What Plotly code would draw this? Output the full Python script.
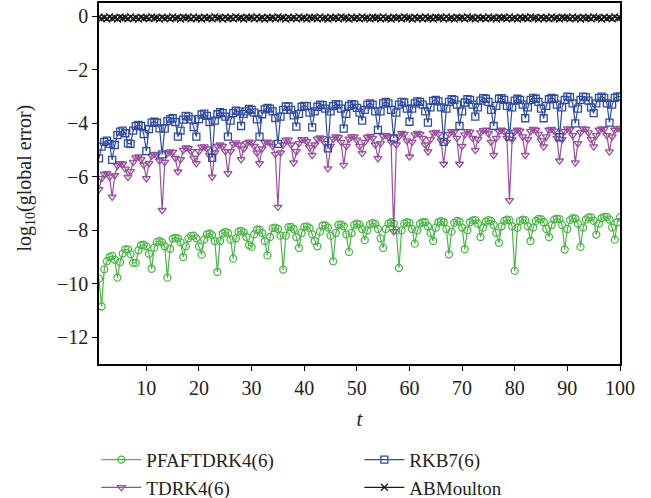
import numpy as np
import plotly.graph_objects as go

# time grid: t = 1.0, 1.5, ..., 100.0
t = np.linspace(1.0, 100.0, 199)

# log10 of global error for each integrator
pfaftdrk = [
    -9.81, -10.85, -9.46, -9.16, -9.00, -8.96, -9.10, -9.77, -9.19, -8.87,
    -8.71, -8.71, -8.90, -9.22, -9.22, -8.75, -8.56, -8.54, -8.60, -8.88,
    -9.44, -8.65, -8.44, -8.40, -8.45, -8.60, -9.77, -8.69, -8.31, -8.28,
    -8.30, -8.45, -9.00, -8.60, -8.30, -8.21, -8.20, -8.30, -8.60, -8.91,
    -8.35, -8.15, -8.12, -8.18, -8.40, -9.56, -8.40, -8.12, -8.06, -8.10,
    -8.35, -9.06, -8.30, -8.05, -8.02, -8.08, -8.25, -8.55, -8.62, -8.15,
    -7.98, -7.98, -8.10, -8.40, -8.94, -8.25, -7.92, -7.90, -7.95, -8.20,
    -9.47, -8.20, -7.88, -7.87, -7.95, -8.25, -8.66, -8.10, -7.87, -7.85,
    -7.92, -8.15, -8.40, -8.60, -8.05, -7.82, -7.82, -7.90, -8.20, -9.16,
    -8.10, -7.80, -7.78, -7.85, -8.15, -8.81, -8.10, -7.80, -7.75, -7.78,
    -7.95, -8.37, -8.00, -7.78, -7.73, -7.76, -7.95, -8.30, -8.66, -7.95,
    -7.75, -7.70, -7.75, -8.00, -9.41, -8.00, -7.75, -7.70, -7.72, -7.95,
    -8.50, -8.00, -7.75, -7.70, -7.70, -7.85, -8.10, -8.40, -7.90, -7.70,
    -7.66, -7.70, -7.95, -8.90, -8.05, -7.72, -7.65, -7.68, -7.90, -8.71,
    -8.00, -7.70, -7.63, -7.62, -7.75, -8.25, -7.90, -7.68, -7.62, -7.65,
    -7.80, -8.10, -8.47, -7.85, -7.65, -7.60, -7.62, -7.85, -9.52, -7.90,
    -7.65, -7.60, -7.62, -7.85, -8.40, -7.90, -7.65, -7.57, -7.58, -7.70,
    -7.95, -8.25, -7.80, -7.60, -7.56, -7.58, -7.80, -8.72, -7.95, -7.62,
    -7.55, -7.56, -7.75, -8.62, -7.90, -7.60, -7.52, -7.52, -7.65, -8.16,
    -7.75, -7.55, -7.50, -7.50, -7.60, -7.90, -8.35, -7.70, -7.52,
]

tdrk = [
    -6.47, -6.06, -5.90, -5.87, -6.00, -6.75, -5.95, -5.58, -5.50, -5.52,
    -5.70, -6.00, -5.80, -5.45, -5.28, -5.25, -5.35, -5.55, -6.06, -5.50,
    -5.22, -5.15, -5.17, -5.40, -7.25, -5.45, -5.12, -5.06, -5.08, -5.30,
    -5.81, -5.35, -5.00, -4.91, -4.93, -5.05, -5.30, -5.50, -5.05, -4.88,
    -4.87, -4.95, -5.20, -6.00, -5.10, -4.85, -4.80, -4.85, -5.05, -5.87,
    -5.05, -4.78, -4.72, -4.80, -5.35, -4.95, -4.75, -4.69, -4.72, -4.85,
    -5.10, -5.50, -4.95, -4.72, -4.69, -4.72, -4.85, -5.15, -7.13, -5.10,
    -4.80, -4.62, -4.62, -4.80, -5.47, -5.05, -4.75, -4.60, -4.60, -4.68,
    -4.90, -5.19, -4.80, -4.58, -4.54, -4.56, -4.75, -5.69, -4.85, -4.58,
    -4.50, -4.52, -4.70, -5.56, -4.85, -4.58, -4.50, -4.50, -4.62, -4.85,
    -5.12, -4.70, -4.52, -4.48, -4.55, -4.80, -5.31, -4.75, -4.48, -4.44,
    -4.50, -4.70, -8.04, -4.80, -4.50, -4.37, -4.40, -4.65, -5.25, -4.70,
    -4.42, -4.37, -4.40, -4.55, -4.80, -5.06, -4.60, -4.36, -4.33, -4.40,
    -4.65, -5.52, -4.70, -4.40, -4.30, -4.32, -4.55, -5.52, -4.85, -4.42,
    -4.30, -4.32, -4.55, -5.00, -4.60, -4.35, -4.26, -4.25, -4.38, -4.70,
    -5.19, -4.55, -4.30, -4.25, -4.30, -4.55, -6.88, -4.60, -4.32, -4.25,
    -4.28, -4.50, -5.19, -4.60, -4.30, -4.22, -4.25, -4.40, -4.65, -4.87,
    -4.50, -4.25, -4.22, -4.28, -4.55, -5.40, -4.60, -4.30, -4.20, -4.23,
    -4.45, -5.47, -4.75, -4.35, -4.20, -4.22, -4.35, -4.60, -4.87, -4.45,
    -4.25, -4.20, -4.22, -4.45, -5.06, -4.50, -4.25, -4.19, -4.18,
]

rkb7 = [
    -5.31, -4.87, -4.69, -4.65, -4.77, -5.37, -4.81, -4.44, -4.31, -4.27,
    -4.37, -4.75, -4.77, -4.27, -4.10, -4.06, -4.10, -4.40, -5.04, -4.22,
    -3.97, -3.94, -3.97, -4.19, -5.16, -4.20, -3.92, -3.84, -3.81, -3.95,
    -4.50, -4.27, -3.86, -3.72, -3.75, -3.85, -4.14, -4.50, -3.84, -3.67,
    -3.64, -3.72, -3.95, -5.29, -3.90, -3.66, -3.58, -3.62, -3.75, -4.50,
    -3.90, -3.62, -3.53, -3.55, -4.10, -3.65, -3.55, -3.46, -3.50, -3.60,
    -3.85, -4.50, -3.66, -3.48, -3.42, -3.45, -3.55, -3.80, -4.77, -3.75,
    -3.50, -3.37, -3.37, -3.50, -3.70, -4.12, -3.65, -3.38, -3.35, -3.36,
    -3.60, -4.15, -3.55, -3.38, -3.30, -3.32, -3.45, -4.94, -3.55, -3.36,
    -3.28, -3.30, -3.45, -4.20, -3.65, -3.35, -3.28, -3.30, -3.42, -3.60,
    -3.90, -3.50, -3.30, -3.25, -3.30, -3.55, -4.25, -3.55, -3.25, -3.20,
    -3.25, -3.50, -4.56, -3.60, -3.30, -3.20, -3.22, -3.45, -3.94, -3.45,
    -3.25, -3.18, -3.20, -3.30, -3.55, -3.97, -3.40, -3.16, -3.12, -3.18,
    -3.40, -4.69, -3.45, -3.20, -3.10, -3.12, -3.30, -4.10, -3.55, -3.22,
    -3.10, -3.12, -3.30, -3.75, -3.40, -3.15, -3.06, -3.08, -3.20, -3.50,
    -4.10, -3.35, -3.08, -3.06, -3.12, -3.35, -4.50, -3.40, -3.15, -3.08,
    -3.12, -3.30, -3.81, -3.40, -3.12, -3.05, -3.08, -3.20, -3.45, -3.81,
    -3.35, -3.10, -3.05, -3.08, -3.30, -4.52, -3.40, -3.12, -3.00, -3.02,
    -3.25, -4.00, -3.45, -3.12, -3.00, -3.02, -3.15, -3.40, -3.62, -3.25,
    -3.05, -3.00, -3.05, -3.25, -3.97, -3.30, -3.05, -3.00, -3.00,
]

abmoulton = [
    -0.03, -0.08, -0.04, -0.09, -0.02, -0.07, -0.05, -0.10, -0.03, -0.06,
    -0.04, -0.09, -0.02, -0.08, -0.05, -0.10, -0.03, -0.07, -0.04, -0.09,
    -0.02, -0.06, -0.05, -0.10, -0.03, -0.08, -0.04, -0.09, -0.02, -0.07,
    -0.05, -0.10, -0.03, -0.06, -0.04, -0.09, -0.02, -0.08, -0.05, -0.10,
    -0.03, -0.07, -0.04, -0.09, -0.02, -0.06, -0.05, -0.10, -0.03, -0.08,
    -0.04, -0.09, -0.02, -0.07, -0.05, -0.10, -0.03, -0.06, -0.04, -0.09,
    -0.02, -0.08, -0.05, -0.10, -0.03, -0.07, -0.04, -0.09, -0.02, -0.06,
    -0.05, -0.10, -0.03, -0.08, -0.04, -0.09, -0.02, -0.07, -0.05, -0.10,
    -0.03, -0.06, -0.04, -0.09, -0.02, -0.08, -0.05, -0.10, -0.03, -0.07,
    -0.04, -0.09, -0.02, -0.06, -0.05, -0.10, -0.03, -0.08, -0.04, -0.09,
    -0.02, -0.07, -0.05, -0.10, -0.03, -0.06, -0.04, -0.09, -0.02, -0.08,
    -0.05, -0.10, -0.03, -0.07, -0.04, -0.09, -0.02, -0.06, -0.05, -0.10,
    -0.03, -0.08, -0.04, -0.09, -0.02, -0.07, -0.05, -0.10, -0.03, -0.06,
    -0.04, -0.09, -0.02, -0.08, -0.05, -0.10, -0.03, -0.07, -0.04, -0.09,
    -0.02, -0.06, -0.05, -0.10, -0.03, -0.08, -0.04, -0.09, -0.02, -0.07,
    -0.05, -0.10, -0.03, -0.06, -0.04, -0.09, -0.02, -0.08, -0.05, -0.10,
    -0.03, -0.07, -0.04, -0.09, -0.02, -0.06, -0.05, -0.10, -0.03, -0.08,
    -0.04, -0.09, -0.02, -0.07, -0.05, -0.10, -0.03, -0.06, -0.04, -0.09,
    -0.02, -0.08, -0.05, -0.10, -0.03, -0.07, -0.04, -0.09, -0.02, -0.06,
    -0.05, -0.10, -0.03, -0.08, -0.04, -0.09, -0.02, -0.07, -0.05,
]

series_names = ["PFAFTDRK4(6)", "TDRK4(6)", "RKB7(6)", "ABMoulton"]
for s in (pfaftdrk, tdrk, rkb7, abmoulton):
    assert len(s) == len(t), len(s)

x_ticks = [10, 20, 30, 40, 50, 60, 70, 80, 90, 100]
y_ticks = [-12, -10, -8, -6, -4, -2, 0]

FONT = '"Liberation Serif", "Times New Roman", serif'
TEXT = "#222222"

styles = [
    # (values, name, colour, symbol, legend column)
    (pfaftdrk, series_names[0], "#4cb748", "circle-open", "legend"),
    (tdrk, series_names[1], "#9a4f9e", "triangle-down-open", "legend"),
    (rkb7, series_names[2], "#2f4b9f", "square-open", "legend2"),
    (abmoulton, series_names[3], "#1a1a1a", "x-thin-open", "legend2"),
]

fig = go.Figure()
for vals, name, color, symbol, leg in styles:
    fig.add_trace(go.Scatter(
        x=t, y=vals, name=name, mode="lines+markers",
        line=dict(color=color, width=1.2),
        marker=dict(symbol=symbol, size=7, color=color,
                    line=dict(color=color, width=1.3)),
        legend=leg,
    ))

axis_common = dict(
    showline=True, linecolor="black", linewidth=1.5, mirror=True,
    ticks="outside", ticklen=5, tickwidth=1.2, tickcolor="black",
    showgrid=False, zeroline=False, automargin=False,
    tickfont=dict(family=FONT, size=20, color=TEXT),
)

fig.update_xaxes(
    range=[1, 100], tickvals=x_ticks,
    title=dict(text="<i>t</i>", font=dict(family=FONT, size=21, color=TEXT),
               standoff=14),
    **axis_common,
)
fig.update_yaxes(range=[-13, 0.5], tickvals=y_ticks, **axis_common)

# vertical axis label, placed to the left of the tick labels
fig.add_annotation(
    text="log<sub>10</sub>(global error)", textangle=-90,
    xref="paper", yref="paper", x=-0.142, y=0.514,
    xanchor="center", yanchor="middle", showarrow=False,
    font=dict(family=FONT, size=20, color=TEXT),
)

legend_common = dict(
    orientation="v", xanchor="left",
    yref="container", y=0.115, yanchor="top",
    font=dict(family=FONT, size=19, color=TEXT),
    tracegroupgap=0, itemwidth=40, bgcolor="rgba(0,0,0,0)",
)

fig.update_layout(
    width=651, height=498,
    margin=dict(l=99, r=31, t=3, b=134, autoexpand=False),
    paper_bgcolor="white", plot_bgcolor="white",
    showlegend=True,
    legend=dict(xref="container", x=0.148, **legend_common),
    legend2=dict(xref="container", x=0.552, **legend_common),
)

fig.write_html("out.html")
